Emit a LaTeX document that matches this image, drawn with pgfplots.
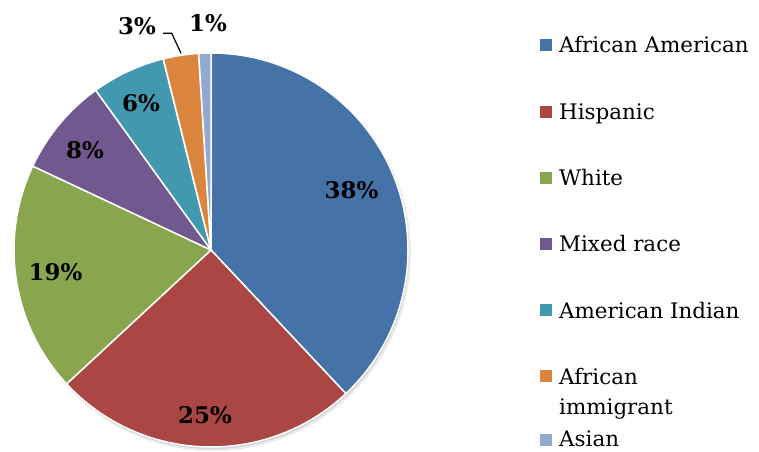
\documentclass[border=0pt]{standalone}
\usepackage{pgfplots}
\pgfplotsset{compat=1.18}
\usepackage{pgfplotstable}
\usepackage{fontspec}
\setmainfont{DejaVu Serif}

\definecolor{slice0}{HTML}{4572A7}
\definecolor{slice1}{HTML}{AA4643}
\definecolor{slice2}{HTML}{89A54E}
\definecolor{slice3}{HTML}{71588F}
\definecolor{slice4}{HTML}{4198AF}
\definecolor{slice5}{HTML}{DB843D}
\definecolor{slice6}{HTML}{93A9CF}

% share of each group, percent
\pgfplotstableread[col sep=comma]{
name,value
African American,38
Hispanic,25.1
White,18.9
Mixed race,8.05
American Indian,6.05
African immigrant,2.9
Asian,1.0
}\piedata

\begin{document}
\begin{tikzpicture}
\begin{axis}[
  x=1bp, y=1bp,
  xmin=0, xmax=759, ymin=0, ymax=452,
  hide axis, clip=false
]
% soft shadow
\fill[black, opacity=0.08] (axis cs:213,199) circle[radius=198bp];
\fill[black, opacity=0.10] (axis cs:212,200) circle[radius=197bp];

\xdef\cumul{0}
\pgfplotstableforeachcolumnelement{value}\of\piedata\as\v{%
  \pgfmathsetmacro\a{90-3.6*\cumul}%
  \pgfmathsetmacro\b{90-3.6*(\cumul+\v)}%
  \edef\doslice{\noexpand\filldraw[fill=slice\pgfplotstablerow, draw=white, line width=1.5bp]
    (axis cs:211,202) -- +(\a:197bp) arc[start angle=\a, end angle=\b, radius=197bp] -- cycle;}%
  \doslice
  \pgfmathsetmacro\n{\cumul+\v}\xdef\cumul{\n}%
}

% data labels
\begin{scope}[every node/.style={font=\bfseries\fontsize{23}{23}\selectfont, inner sep=0pt}]
\node at (axis cs:351.5,261.5) {38\%};
\node at (axis cs:205,37) {25\%};
\node at (axis cs:55.5,179.5) {19\%};
\node at (axis cs:85,302) {8\%};
\node at (axis cs:141,348.5) {6\%};
\node at (axis cs:137,425.5) {3\%};
\node at (axis cs:208,428.5) {1\%};
\end{scope}
\draw[line width=1.2bp] (axis cs:163,418.7) -- (axis cs:171.7,418.7) -- (axis cs:181,398.7);

% legend
\begin{scope}[every node/.style={font=\fontsize{21.5}{21.5}\selectfont, anchor=base west, inner sep=0pt}]
\fill[slice0] (axis cs:540,400.5) rectangle (axis cs:552,412.5);
\node at (axis cs:559,399) {African American};
\fill[slice1] (axis cs:540,334) rectangle (axis cs:552,346);
\node at (axis cs:559,332) {Hispanic};
\fill[slice2] (axis cs:540,268) rectangle (axis cs:552,280);
\node at (axis cs:559,266) {White};
\fill[slice3] (axis cs:540,202) rectangle (axis cs:552,214);
\node at (axis cs:559,200) {Mixed race};
\fill[slice4] (axis cs:540,136) rectangle (axis cs:552,148);
\node at (axis cs:559,133) {American Indian};
\fill[slice5] (axis cs:540,69.5) rectangle (axis cs:552,81.5);
\node at (axis cs:559,67) {African};
\node at (axis cs:559,37) {immigrant};
\fill[slice6] (axis cs:540,6) rectangle (axis cs:552,18);
\node at (axis cs:559,5) {Asian};
\end{scope}
\end{axis}
\pgfresetboundingbox
\useasboundingbox (current axis.south west) rectangle (current axis.north east);
\end{tikzpicture}
\end{document}
